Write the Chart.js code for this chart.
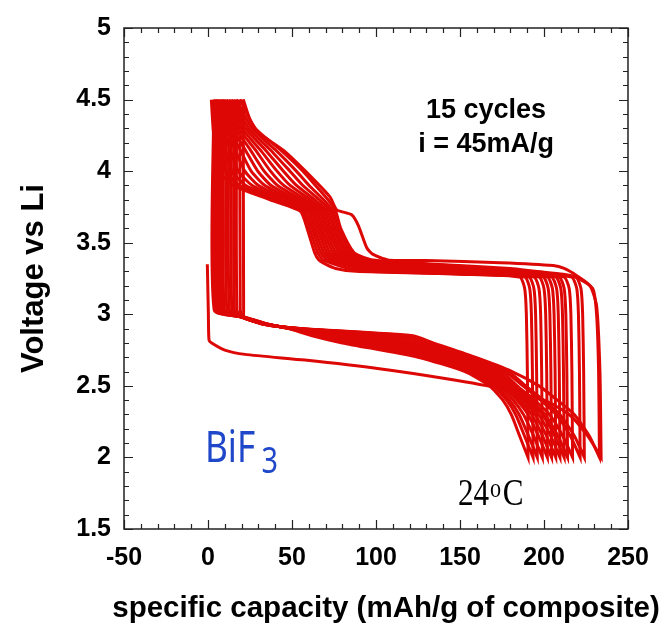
<!DOCTYPE html>
<html>
<head>
<meta charset="utf-8">
<script src="https://cdn.jsdelivr.net/npm/chart.js@4.4.1/dist/chart.umd.min.js"></script>
<style>
  html, body { margin: 0; padding: 0; background: #fff; }
  canvas { display: block; }
</style>
</head>
<body>
<canvas id="chart" width="665" height="627"></canvas>
<script>
// first cycle
const firstDischargeCap = [-0.4, 0.2, 0.6, 2.2, 10, 22, 57.7, 102, 142, 175, 200, 215, 226, 234];
const firstDischargeV   = [3.35, 3.015, 2.82, 2.80, 2.75, 2.72, 2.68, 2.62, 2.55, 2.48, 2.40, 2.30, 2.15, 2.0];
const firstChargeCap = [234, 233.3, 231.3, 227.4, 219.5, 212, 205.5, 174, 130, 107, 98, 94.5, 89.5, 85.5, 76.6, 72.6, 58, 45, 30, 25, 21];
const firstChargeV   = [2.0, 2.6, 3.06, 3.20, 3.27, 3.32, 3.34, 3.36, 3.375, 3.38, 3.42, 3.465, 3.62, 3.695, 3.73, 3.82, 4.0, 4.145, 4.27, 4.36, 4.5];

// cycles 2..15: capacity where each curve crosses these voltages
const dischargeLevels = [4.5, 3.03, 2.98, 2.93, 2.90, 2.85, 2.80, 2.70, 2.60, 2.50, 2.40, 2.30, 2.15, 2.0];
const dischargeCaps = [
  [21, 21.2, 21.6, 33, 55, 122, 134, 159, 181, 197, 208, 218, 227, 233],
  [19, 19.2, 21, 33.2, 54.5, 117.4, 129.8, 156.4, 178.8, 189, 199.8, 209.4, 218.1, 224],
  [17, 17.2, 20.4, 33.5, 53.9, 112.8, 125.7, 153.8, 176.7, 187.5, 198, 207.3, 215.7, 221.5],
  [15.5, 15.7, 20.2, 33.7, 53.4, 108.1, 121.5, 151.1, 174.5, 184, 194.3, 203.2, 211.2, 217],
  [14, 14.2, 20.1, 33.9, 52.8, 103.5, 117.4, 148.5, 172.4, 182, 192.1, 200.5, 208.3, 214],
  [12.5, 12.7, 20, 34.2, 52.3, 98.9, 113.2, 145.9, 170.2, 181, 190.8, 198.9, 206.4, 212],
  [11, 11.2, 19.9, 34.4, 51.8, 94.3, 109.1, 143.3, 168.1, 179.5, 189.1, 196.8, 204, 209.5],
  [9.5, 9.7, 19.7, 34.6, 51.2, 89.7, 104.9, 140.7, 165.9, 178, 187.4, 194.7, 201.5, 207],
  [8.5, 8.7, 20.1, 34.8, 50.7, 85.1, 100.8, 138.1, 163.8, 176.5, 185.6, 192.6, 199.1, 204.5],
  [7.5, 7.7, 20.5, 35.1, 50.2, 80.5, 96.6, 135.5, 161.6, 175, 183.9, 190.5, 196.7, 202],
  [6.5, 6.7, 20.9, 35.3, 49.6, 75.9, 92.5, 132.9, 159.5, 173, 181.7, 187.8, 193.8, 199],
  [5.5, 5.7, 21.2, 35.5, 49.1, 71.2, 88.3, 130.2, 157.3, 171, 179.5, 185.2, 190.8, 196],
  [4.5, 4.7, 21.6, 35.8, 48.5, 66.6, 84.2, 127.6, 155.2, 169.5, 177.7, 183.1, 188.4, 193.5],
  [3.5, 3.7, 22, 36, 48, 62, 80, 125, 153, 167.5, 175.5, 180.5, 185.5, 190.5]
];
const chargeLevels = [2.0, 2.6, 3.0, 3.18, 3.26, 3.28, 3.30, 3.32, 3.35, 3.38, 3.43, 3.6, 3.72, 3.8, 3.9, 4.0, 4.15, 4.3, 4.5];
const chargeCaps = [
  [233, 232.5, 231.3, 229, 219, 211.5, 195, 180, 135, 98, 87, 79, 76, 71.5, 64, 56.5, 43, 28, 19],
  [224, 223.6, 223, 222, 219, 201, 186.8, 172, 130, 95.5, 85.2, 77.5, 74.4, 68.8, 60.2, 52.6, 40, 26.1, 17],
  [221.5, 221.1, 220.5, 219.5, 216.5, 197.1, 178.5, 164, 125, 93.1, 83.4, 75.9, 72.8, 66.2, 56.5, 48.8, 37, 24.1, 15.5],
  [217, 216.6, 216, 215, 212, 191.1, 170.3, 156, 120, 90.6, 81.6, 74.4, 71.1, 63.5, 52.7, 44.9, 34, 22.2, 14],
  [214, 213.6, 213, 212, 209, 186.6, 162, 148, 115, 88.1, 79.8, 72.8, 69.5, 60.9, 48.9, 41.1, 31, 20.3, 12.5],
  [212, 211.6, 211, 210, 207, 183.2, 153.8, 140, 110, 85.7, 78, 71.3, 67.9, 58.2, 45.1, 37.2, 28.1, 18.4, 11],
  [209.5, 209.1, 208.5, 207.5, 204.5, 179.2, 145.6, 132, 105, 83.2, 76.1, 69.8, 66.3, 55.6, 41.4, 33.4, 25.1, 16.4, 9.5],
  [207, 206.6, 206, 205, 202, 175.3, 137.4, 124, 100, 80.8, 74.4, 68.2, 64.7, 52.9, 37.6, 29.6, 22.1, 14.5, 8.5],
  [204.5, 204.1, 203.5, 202.5, 199.5, 171.3, 129.2, 116, 95, 78.3, 72.5, 66.7, 63.1, 50.3, 33.9, 25.7, 19.1, 12.6, 7.5],
  [202, 201.6, 201, 200, 197, 167.4, 121, 108, 90, 75.9, 70.7, 65.2, 61.5, 47.6, 30.1, 21.9, 16.2, 10.7, 6.5],
  [199, 198.6, 198, 197, 194, 162.9, 112.7, 100, 85, 73.4, 68.9, 63.6, 59.9, 45, 26.3, 18, 13.2, 8.8, 5.5],
  [196, 195.6, 195, 194, 191, 158.4, 104.5, 92, 80, 70.9, 67.1, 62.1, 58.2, 42.3, 22.5, 14.2, 10.2, 6.8, 4.5],
  [193.5, 193.1, 192.5, 191.5, 188.5, 154.4, 96.2, 84, 75, 68.5, 65.3, 60.5, 56.6, 39.7, 18.8, 10.3, 8.2, 4.9, 3.5],
  [190.5, 190.1, 189.5, 188.5, 185.5, 150, 88, 76, 70, 66, 63.5, 59, 55, 37, 15, 6.5, 4.2, 3, 2]
];

const xTicks = [-50, 0, 50, 100, 150, 200, 250];
const yTicks = [1.5, 2, 2.5, 3, 3.5, 4, 4.5, 5];
const xTitle = 'specific capacity (mAh/g of composite)';

const RED = '#dd0806';

function zip(xs, ys) {
  return xs.map((x, i) => ({ x: x, y: ys[i] }));
}

function buildDatasets() {
  const sets = [];
  sets.push(zip(firstDischargeCap, firstDischargeV).concat(zip(firstChargeCap, firstChargeV)));
  for (let i = 0; i < dischargeCaps.length; i++) {
    sets.push(zip(dischargeCaps[i], dischargeLevels).concat(zip(chargeCaps[i], chargeLevels)));
  }
  return sets.map(pts => ({
    data: pts,
    showLine: true,
    borderColor: RED,
    borderWidth: 3,
    pointRadius: 0,
    tension: 0.2,
    fill: false
  }));
}

// inward ticks on all four sides, plus the text labels
const frameAndText = {
  id: 'frameAndText',
  afterDraw(chart) {
    const { ctx, chartArea: a, scales: { x, y } } = chart;
    ctx.save();
    ctx.strokeStyle = '#222';
    ctx.lineWidth = 1.5;
    ctx.strokeRect(a.left, a.top, a.right - a.left, a.bottom - a.top);
    ctx.lineWidth = 1.2;
    ctx.beginPath();
    for (let v = -50; v <= 250; v += 10) {
      const px = Math.round(x.getPixelForValue(v)) + 0.5;
      const len = v % 50 === 0 ? 9 : 5;
      ctx.moveTo(px, a.bottom); ctx.lineTo(px, a.bottom - len);
      ctx.moveTo(px, a.top); ctx.lineTo(px, a.top + len);
    }
    for (let i = 15; i <= 50; i++) {
      const py = Math.round(y.getPixelForValue(i / 10)) + 0.5;
      const len = i % 5 === 0 ? 9 : 5;
      ctx.moveTo(a.left, py); ctx.lineTo(a.left + len, py);
      ctx.moveTo(a.right, py); ctx.lineTo(a.right - len, py);
    }
    ctx.stroke();

    ctx.fillStyle = '#000';
    ctx.textAlign = 'center';
    // x axis title, wider than the plot so drawn here (Chart.js would squeeze it)
    ctx.font = 'bold 29.5px "Liberation Sans", Arial, sans-serif';
    ctx.fillText(xTitle, 386, 617);

    ctx.font = 'bold 27px "Liberation Sans", Arial, sans-serif';
    ctx.fillText('15 cycles', x.getPixelForValue(165.5), y.getPixelForValue(4.37));
    ctx.fillText('i = 45mA/g', x.getPixelForValue(165.5), y.getPixelForValue(4.135));

    // BiF3
    ctx.save();
    ctx.translate(x.getPixelForValue(-1.8), y.getPixelForValue(1.965));
    ctx.scale(0.8, 1);
    ctx.textAlign = 'left';
    ctx.fillStyle = '#1f47c9';
    ctx.font = '44px "Noto Sans", sans-serif';
    ctx.fillText('BiF', 0, 0);
    const w = ctx.measureText('BiF').width;
    ctx.font = '36px "Noto Sans", sans-serif';
    ctx.fillText('3', w + 8, 11);
    ctx.restore();

    // 24oC
    ctx.save();
    ctx.translate(x.getPixelForValue(148.8), y.getPixelForValue(1.668));
    ctx.scale(0.82, 1);
    ctx.textAlign = 'left';
    ctx.fillStyle = '#000';
    ctx.font = '38px "Liberation Serif", "Times New Roman", serif';
    ctx.fillText('24', 0, 0);
    let off = ctx.measureText('24').width + 1;
    ctx.font = '27px "Liberation Serif", "Times New Roman", serif';
    ctx.fillText('o', off, -8);
    off += ctx.measureText('o').width + 2;
    ctx.font = '38px "Liberation Serif", "Times New Roman", serif';
    ctx.fillText('C', off, 0);
    ctx.restore();

    ctx.restore();
  }
};

const tickFont = { family: '"Liberation Sans", Arial, sans-serif', size: 25, weight: 'bold' };

new Chart(document.getElementById('chart'), {
  type: 'scatter',
  data: { datasets: buildDatasets() },
  options: {
    responsive: false,
    animation: false,
    events: [],
    layout: { padding: { top: 23, right: 37, left: 0, bottom: 0 } },
    plugins: { legend: { display: false }, tooltip: { enabled: false } },
    scales: {
      x: {
        type: 'linear',
        min: -50,
        max: 250,
        afterBuildTicks: s => { s.ticks = xTicks.map(v => ({ value: v })); },
        ticks: { font: tickFont, color: '#000', padding: 14, maxRotation: 0, autoSkip: false, callback: v => String(v) },
        grid: { display: false, drawTicks: false },
        border: { display: false },
        title: { display: false },
        afterFit: s => { s.height = 98; }
      },
      y: {
        type: 'linear',
        min: 1.5,
        max: 5,
        afterBuildTicks: s => { s.ticks = yTicks.map(v => ({ value: v })); },
        ticks: { font: tickFont, color: '#000', padding: 13, autoSkip: false, callback: v => String(v) },
        grid: { display: false, drawTicks: false },
        border: { display: false },
        title: {
          display: true, text: 'Voltage vs Li',
          font: { family: '"Liberation Sans", Arial, sans-serif', size: 31, weight: 'bold' },
          color: '#000', padding: { top: 16, bottom: 0 }
        },
        afterFit: s => { s.width = 124; }
      }
    }
  },
  plugins: [frameAndText]
});
</script>
</body>
</html>
